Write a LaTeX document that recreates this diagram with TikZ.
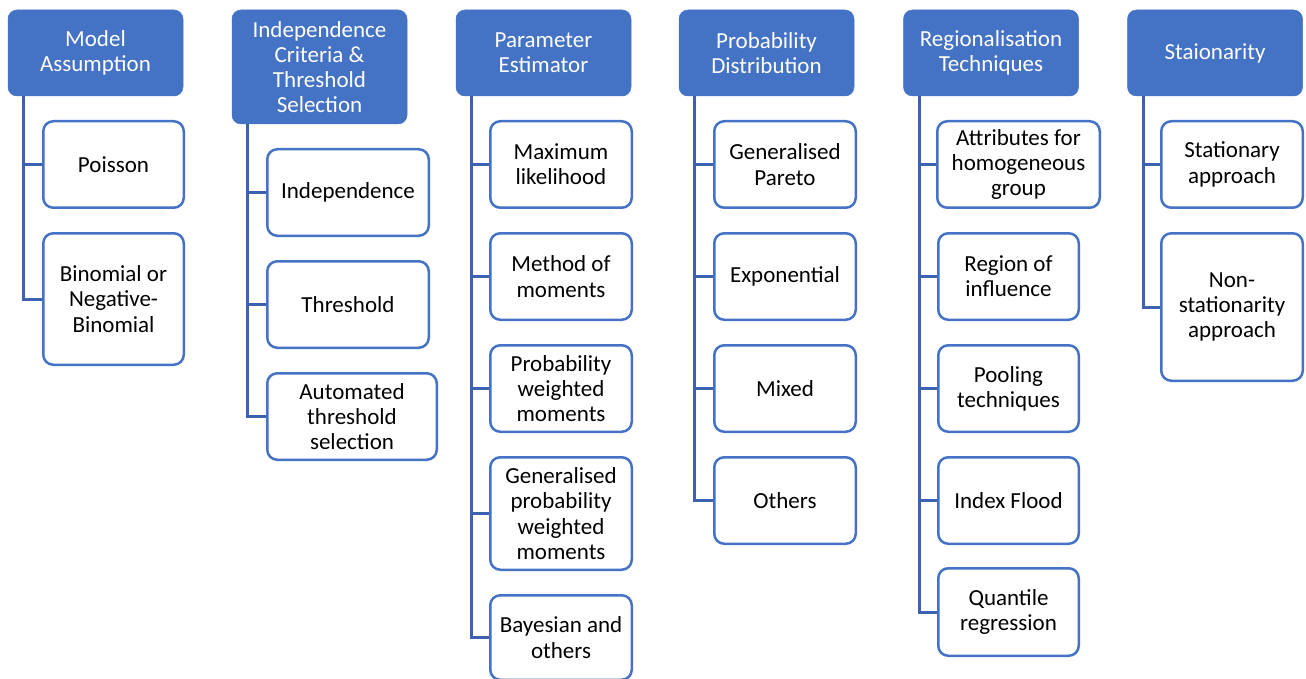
\documentclass[tikz,border=0pt]{standalone}
\usepackage{fontspec}
\setmainfont{Carlito}
\usetikzlibrary{calc}
\definecolor{hblue}{HTML}{4472C4}
\definecolor{lblue}{HTML}{3A62AE}
\tikzset{
  hdr/.style={rectangle, rounded corners=9pt, fill=hblue, draw=hblue, line width=0.5pt, text=white,
    align=center, inner sep=0pt, minimum width=175pt, font=\fontsize{23}{25.2}\selectfont},
  child/.style={rectangle, rounded corners=10pt, draw=hblue, line width=2.5pt, fill=white, text=black,
    align=center, inner sep=0pt, font=\fontsize{23}{25.2}\selectfont},
  conn/.style={draw=lblue, line width=3pt},
}
\begin{document}
\begin{tikzpicture}[x=1pt,y=-1pt]
\useasboundingbox[fill=white] (0,0) rectangle (1306,679);
% headers
\node[hdr, minimum height=86pt] (hM) at (95.5,53) {Model\\Assumption};
\node[hdr, minimum height=114pt] (hI) at (319.5,67) {Independence\\Criteria \&\\Threshold\\Selection};
\node[hdr, minimum height=86pt] (hP) at (543.5,53) {Parameter\\Estimator};
\node[hdr, minimum height=86pt] (hD) at (766.5,53) {Probability\\Distribution};
\node[hdr, minimum height=86pt] (hR) at (991,53) {Regionalisation\\Techniques};
\node[hdr, minimum height=86pt] (hS) at (1215,53) {Staionarity};
% column 1
\node[child, minimum width=140.5pt, minimum height=86.5pt] (m1) at (113.5,164.5) {Poisson};
\node[child, minimum width=140.5pt, minimum height=131.5pt] (m2) at (113.5,299) {Binomial or\\Negative-\\Binomial};
% column 2
\node[child, minimum width=161.5pt, minimum height=86.5pt] (i1) at (348,192.5) {Independence};
\node[child, minimum width=161.5pt, minimum height=86.5pt] (i2) at (348,304.5) {Threshold};
\node[child, minimum width=169.5pt, minimum height=86.5pt] (i3) at (352,416.5) {Automated\\threshold\\selection};
% column 3
\node[child, minimum width=141.5pt, minimum height=86.5pt] (p1) at (561,164.5) {Maximum\\likelihood};
\node[child, minimum width=141.5pt, minimum height=86.5pt] (p2) at (561,276.5) {Method of\\moments};
\node[child, minimum width=141.5pt, minimum height=86.5pt] (p3) at (561,388.5) {Probability\\weighted\\moments};
\node[child, minimum width=141.5pt, minimum height=112.5pt] (p4) at (561,513.5) {Generalised\\probability\\weighted\\moments};
\node[child, minimum width=141.5pt, minimum height=84.5pt] (p5) at (561,637.5) {Bayesian and\\others};
% column 4
\node[child, minimum width=141.5pt, minimum height=86.5pt] (d1) at (785,164.5) {Generalised\\Pareto};
\node[child, minimum width=141.5pt, minimum height=86.5pt] (d2) at (785,276.5) {Exponential};
\node[child, minimum width=141.5pt, minimum height=86.5pt] (d3) at (785,388.5) {Mixed};
\node[child, minimum width=141.5pt, minimum height=86.5pt] (d4) at (785,500.5) {Others};
% column 5
\node[child, minimum width=162.5pt, minimum height=86.5pt] (r1) at (1018.5,164.5) {Attributes for\\homogeneous\\group};
\node[child, minimum width=140.5pt, minimum height=86.5pt] (r2) at (1008.5,276.5) {Region of\\influence};
\node[child, minimum width=140.5pt, minimum height=86.5pt] (r3) at (1008.5,388.5) {Pooling\\techniques};
\node[child, minimum width=140.5pt, minimum height=86.5pt] (r4) at (1008.5,500.5) {Index Flood};
\node[child, minimum width=140.5pt, minimum height=87.5pt] (r5) at (1008.5,612) {Quantile\\regression};
% column 6
\node[child, minimum width=141.5pt, minimum height=86.5pt] (s1) at (1232,164.5) {Stationary\\approach};
\node[child, minimum width=141.5pt, minimum height=147.5pt] (s2) at (1232,307) {Non-\\stationarity\\approach};
% connectors
\foreach \h/\c in {hM/m1,hM/m2,hI/i1,hI/i2,hI/i3,hP/p1,hP/p2,hP/p3,hP/p4,hP/p5,hD/d1,hD/d2,hD/d3,hD/d4,hR/r1,hR/r2,hR/r3,hR/r4,hR/r5,hS/s1,hS/s2}{
  \draw[conn] ([xshift=16pt]\h.south west) |- (\c.west);
}
\end{tikzpicture}
\end{document}
